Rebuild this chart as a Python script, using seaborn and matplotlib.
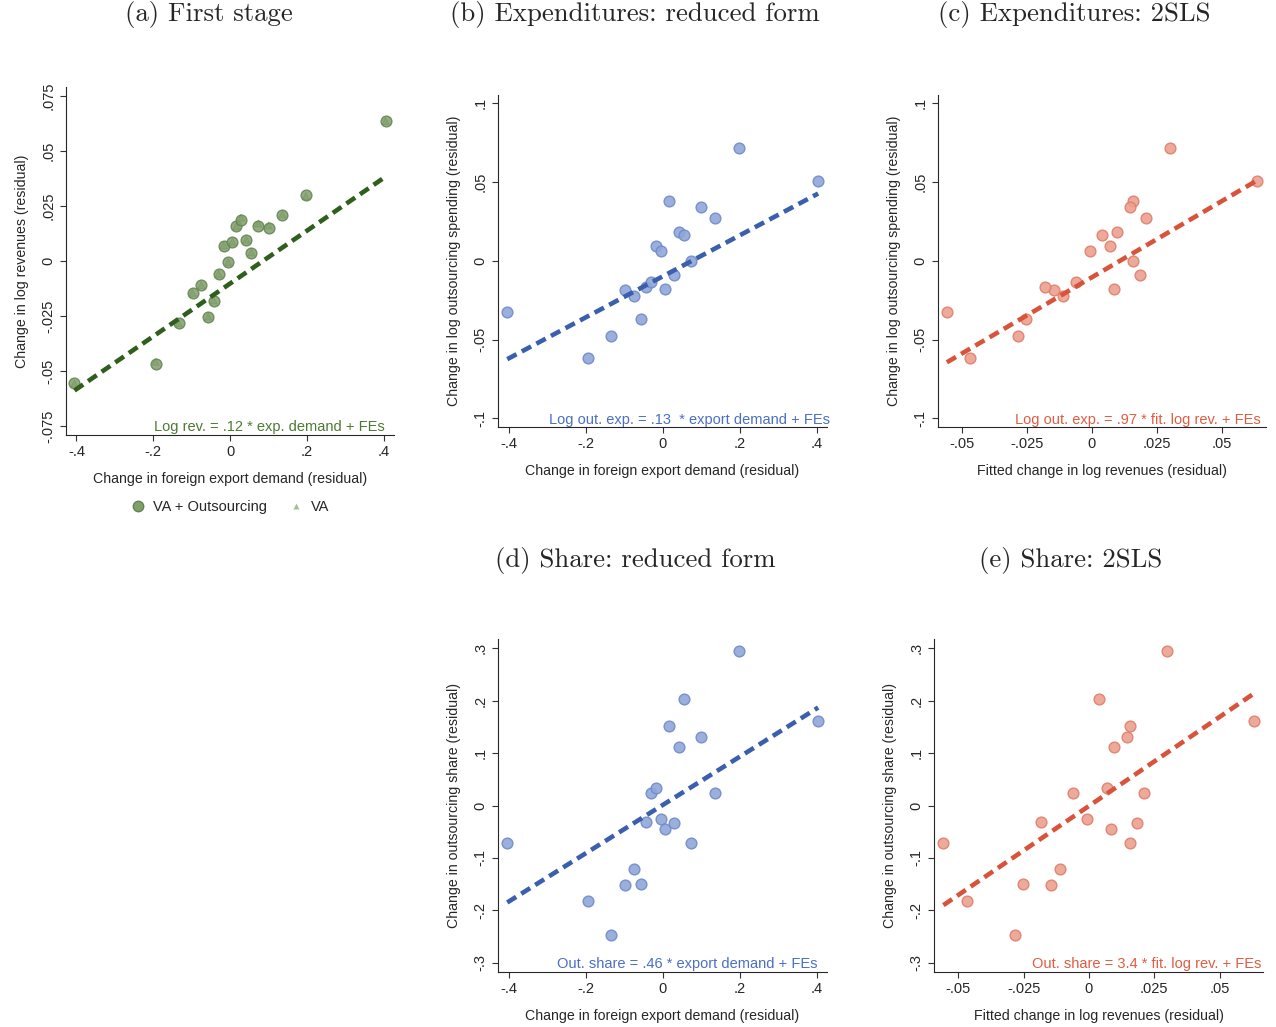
import matplotlib
matplotlib.use("Agg")
import matplotlib.pyplot as plt
from matplotlib.lines import Line2D
import seaborn as sns
import pandas as pd

export_demand = [-0.405, -0.194, -0.134, -0.098, -0.075, -0.057, -0.043, -0.030, -0.017, -0.005,
                 0.006, 0.016, 0.028, 0.042, 0.055, 0.073, 0.100, 0.136, 0.197, 0.404]
log_rev = [-0.0557, -0.0468, -0.0284, -0.0147, -0.0111, -0.0254, -0.0182, -0.0062, 0.0068, -0.0007,
           0.0085, 0.0157, 0.0184, 0.0095, 0.0037, 0.0156, 0.0147, 0.0209, 0.0299, 0.0633]
va_log_rev = [-0.0557, -0.0458, -0.0283, -0.0145, -0.0110, -0.0253, -0.0180, -0.0060, 0.0070, -0.0006,
              0.0087, 0.0158, 0.0196, 0.0096, 0.0038, 0.0170, 0.0161, 0.0211, 0.0294, 0.0635]
log_out_exp = [-0.0324, -0.0617, -0.0475, -0.0186, -0.0225, -0.0367, -0.0167, -0.0136, 0.0097, 0.0064,
               -0.0178, 0.0383, -0.0087, 0.0180, 0.0165, -0.0004, 0.0343, 0.0269, 0.0714, 0.0508]
out_share = [-0.0717, -0.182, -0.2467, -0.1516, -0.1211, -0.149, -0.031, 0.0247, 0.0336, -0.0247,
             -0.045, 0.1528, -0.0336, 0.111, 0.204, -0.071, 0.1306, 0.0241, 0.2955, 0.1617]

# fitted lines (slope, intercept incl. FEs)
fit_a = (0.12, -0.0103)
fit_b = (0.13, -0.0098)
fit_c = (0.97, -0.0104)
fit_d = (0.46, 0.0013)
fit_e = (3.4, -0.0007)

xt_demand = [-0.4, -0.2, 0, 0.2, 0.4]
xl_demand = ["-.4", "-.2", "0", ".2", ".4"]
xt_rev = [-0.05, -0.025, 0, 0.025, 0.05]
xl_rev = ["-.05", "-.025", "0", ".025", ".05"]
yt_a = [-0.075, -0.05, -0.025, 0, 0.025, 0.05, 0.075]
yl_a = ["-.075", "-.05", "-.025", "0", ".025", ".05", ".075"]
yt_exp = [-0.1, -0.05, 0, 0.05, 0.1]
yl_exp = ["-.1", "-.05", "0", ".05", ".1"]
yt_share = [-0.3, -0.2, -0.1, 0, 0.1, 0.2, 0.3]
yl_share = ["-.3", "-.2", "-.1", "0", ".1", ".2", ".3"]

df = pd.DataFrame({"demand": export_demand, "rev": log_rev, "va": va_log_rev,
                   "exp": log_out_exp, "share": out_share})

GREEN = dict(face="#809f6b", edge="#628352", line="#2f5f1c", text="#4d7a32")
BLUE = dict(face="#8fa6d8", edge="#6f8cc9", line="#3a5fad", text="#4a6fc4")
RED = dict(face="#eca08f", edge="#de7f6b", line="#d9533a", text="#e05c42")
VA_COL = "#a3c18e"

sns.set_style("ticks")
plt.rcParams['font.family'] = ['Liberation Sans', 'DejaVu Sans']
plt.rcParams['axes.linewidth'] = 0.8

FS = 10.2
W, H = 1276, 1027
fig = plt.figure(figsize=(W / 100, H / 100), dpi=100)


def make_ax(l, r, t, b):
    return fig.add_axes([l / W, 1 - b / H, (r - l) / W, (b - t) / H])


def style(ax, xlim, ylim, xt, xl, yt, yl, xlabel, ylabel):
    ax.set_xlim(*xlim)
    ax.set_ylim(*ylim)
    ax.set_xticks(xt)
    ax.set_xticklabels(xl, fontsize=FS + 0.3)
    ax.set_yticks(yt)
    ax.set_yticklabels(yl, fontsize=FS + 0.3, rotation=90, va="center")
    ax.set_xlabel(xlabel, fontsize=FS, labelpad=9)
    ax.set_ylabel(ylabel, fontsize=FS, labelpad=9)
    ax.tick_params(length=4.5, width=0.8, color="#333333", pad=3)
    sns.despine(ax=ax)


def scatter_fit(ax, x, y, fit, col):
    sns.scatterplot(data=df, x=x, y=y, ax=ax, s=60, color=col["face"],
                    edgecolor=col["edge"], linewidth=1.0, alpha=0.9, zorder=3)
    lo, hi = df[x].min(), df[x].max()
    ax.plot([lo, hi], [fit[1] + fit[0] * lo, fit[1] + fit[0] * hi], color=col["line"],
            lw=3.3, dashes=(2.3, 1.3), zorder=4)


# (a) first stage
ax_a = make_ax(66, 394, 87, 435)
sns.scatterplot(data=df, x="demand", y="va", ax=ax_a, s=26, marker="^", color=VA_COL,
                edgecolor="none", alpha=0.9, zorder=2)
sns.scatterplot(data=df, x="demand", y="rev", ax=ax_a, s=60, color=GREEN["face"],
                edgecolor=GREEN["edge"], linewidth=1.0, alpha=0.85, zorder=3)
sns.scatterplot(data=df, x="demand", y="va", ax=ax_a, s=26, marker="^", color="none",
                edgecolor=GREEN["edge"], linewidth=0.6, alpha=0.35, zorder=3.5)
lo, hi = df["demand"].min(), df["demand"].max()
ax_a.plot([lo, hi], [fit_a[1] + fit_a[0] * lo, fit_a[1] + fit_a[0] * hi], color=GREEN["line"],
          lw=3.3, dashes=(2.3, 1.3), zorder=4)
style(ax_a, (-0.427, 0.426), (-0.0791, 0.0789), xt_demand, xl_demand, yt_a, yl_a,
      "Change in foreign export demand (residual)", "Change in log revenues (residual)")
ax_a.text(0.973, 0.011, "Log rev. = .12 * exp. demand + FEs", transform=ax_a.transAxes,
          ha="right", va="baseline", color=GREEN["text"], fontsize=FS + 0.3)
handles = [Line2D([], [], marker="o", ls="none", markersize=7.5, markerfacecolor=GREEN["face"],
                  markeredgecolor=GREEN["edge"]),
           Line2D([], [], marker="^", ls="none", markersize=4.5, markerfacecolor=VA_COL,
                  markeredgecolor="none")]
fig.legend(handles, ["VA + Outsourcing", "VA"], loc="center", bbox_to_anchor=(230 / W, 1 - 507 / H),
           ncol=2, frameon=False, fontsize=FS + 0.3, columnspacing=1.5, handlelength=1.0,
           handletextpad=0.5)

# (b) expenditures reduced form
ax_b = make_ax(498, 827, 95, 427)
scatter_fit(ax_b, "demand", "exp", fit_b, BLUE)
style(ax_b, (-0.429, 0.427), (-0.1055, 0.1053), xt_demand, xl_demand, yt_exp, yl_exp,
      "Change in foreign export demand (residual)", "Change in log outsourcing spending (residual)")
ax_b.text(1.009, 0.009, "Log out. exp. = .13  * export demand + FEs", transform=ax_b.transAxes,
          ha="right", va="baseline", color=BLUE["text"], fontsize=FS + 0.3)

# (c) expenditures 2SLS
ax_c = make_ax(938, 1266, 95, 427)
scatter_fit(ax_c, "rev", "exp", fit_c, RED)
style(ax_c, (-0.0591, 0.0668), (-0.1055, 0.1053), xt_rev, xl_rev, yt_exp, yl_exp,
      "Fitted change in log revenues (residual)", "Change in log outsourcing spending (residual)")
ax_c.text(0.985, 0.009, "Log out. exp. = .97 * fit. log rev. + FEs", transform=ax_c.transAxes,
          ha="right", va="baseline", color=RED["text"], fontsize=FS + 0.3)

# (d) share reduced form
ax_d = make_ax(498, 827, 639, 972)
scatter_fit(ax_d, "demand", "share", fit_d, BLUE)
style(ax_d, (-0.429, 0.427), (-0.3177, 0.318), xt_demand, xl_demand, yt_share, yl_share,
      "Change in foreign export demand (residual)", "Change in outsourcing share (residual)")
ax_d.text(0.97, 0.011, "Out. share = .46 * export demand + FEs", transform=ax_d.transAxes,
          ha="right", va="baseline", color=BLUE["text"], fontsize=FS + 0.3)

# (e) share 2SLS
ax_e = make_ax(934, 1263, 639, 972)
scatter_fit(ax_e, "rev", "share", fit_e, RED)
style(ax_e, (-0.0593, 0.0666), (-0.3177, 0.318), xt_rev, xl_rev, yt_share, yl_share,
      "Fitted change in log revenues (residual)", "Change in outsourcing share (residual)")
ax_e.text(0.994, 0.011, "Out. share = 3.4 * fit. log rev. + FEs", transform=ax_e.transAxes,
          ha="right", va="baseline", color=RED["text"], fontsize=FS + 0.3)

# panel titles
titles = [("(a) First stage", 209, 15), ("(b) Expenditures: reduced form", 635, 15),
          ("(c) Expenditures: 2SLS", 1074, 15), ("(d) Share: reduced form", 635, 560),
          ("(e) Share: 2SLS", 1071, 560)]
for t, x, y in titles:
    fig.text(x / W, 1 - y / H, t, ha="center", va="center", fontsize=19.3, family="cmr10")

fig.savefig("out.png", dpi=100)
